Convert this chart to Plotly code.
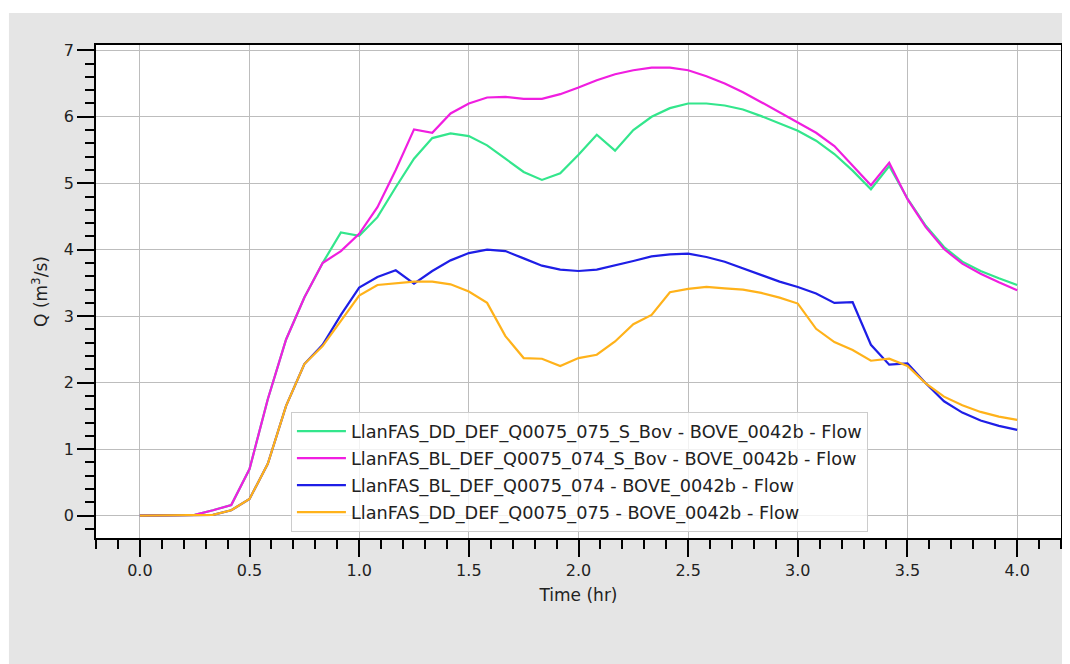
import plotly.graph_objects as go

time_hr = [0.0, 0.0833, 0.1667, 0.25, 0.3333, 0.4167, 0.5, 0.5833, 0.6667, 0.75, 0.8333, 0.9167,
           1.0, 1.0833, 1.1667, 1.25, 1.3333, 1.4167, 1.5, 1.5833, 1.6667, 1.75, 1.8333, 1.9167,
           2.0, 2.0833, 2.1667, 2.25, 2.3333, 2.4167, 2.5, 2.5833, 2.6667, 2.75, 2.8333, 2.9167,
           3.0, 3.0833, 3.1667, 3.25, 3.3333, 3.4167, 3.5, 3.5833, 3.6667, 3.75, 3.8333, 3.9167, 4.0]

dd_s_bov = [0, 0, 0, 0.01, 0.08, 0.16, 0.70, 1.75, 2.65, 3.28, 3.80, 4.26,
            4.21, 4.49, 4.94, 5.37, 5.68, 5.75, 5.71, 5.57, 5.37, 5.17, 5.05, 5.15,
            5.43, 5.73, 5.49, 5.80, 6.00, 6.13, 6.20, 6.20, 6.17, 6.11, 6.01, 5.90,
            5.79, 5.64, 5.44, 5.19, 4.91, 5.26, 4.77, 4.36, 4.04, 3.82, 3.68, 3.57, 3.47]

bl_s_bov = [0, 0, 0, 0.01, 0.08, 0.16, 0.70, 1.75, 2.65, 3.28, 3.80, 3.98,
            4.24, 4.64, 5.20, 5.81, 5.76, 6.05, 6.20, 6.29, 6.30, 6.27, 6.27, 6.34,
            6.44, 6.55, 6.64, 6.70, 6.74, 6.74, 6.70, 6.61, 6.50, 6.37, 6.22, 6.07,
            5.92, 5.76, 5.56, 5.27, 4.97, 5.31, 4.76, 4.34, 4.01, 3.79, 3.64, 3.51, 3.39]

bl_base = [0, 0, 0, 0, 0.01, 0.08, 0.25, 0.78, 1.65, 2.28, 2.57, 3.02,
           3.43, 3.59, 3.69, 3.49, 3.68, 3.84, 3.95, 4.00, 3.98, 3.87, 3.76, 3.70,
           3.68, 3.70, 3.76, 3.83, 3.90, 3.93, 3.94, 3.89, 3.82, 3.72, 3.62, 3.52,
           3.44, 3.34, 3.20, 3.21, 2.57, 2.27, 2.29, 1.99, 1.72, 1.55, 1.43, 1.35, 1.29]

dd_base = [0, 0, 0, 0, 0.01, 0.08, 0.25, 0.78, 1.65, 2.28, 2.55, 2.93,
           3.31, 3.47, 3.50, 3.52, 3.52, 3.48, 3.37, 3.20, 2.70, 2.37, 2.36, 2.25,
           2.37, 2.42, 2.62, 2.88, 3.02, 3.36, 3.41, 3.44, 3.42, 3.40, 3.35, 3.28,
           3.19, 2.81, 2.61, 2.49, 2.33, 2.36, 2.25, 1.99, 1.79, 1.66, 1.56, 1.49, 1.44]

series_names = [
    "LlanFAS_DD_DEF_Q0075_075_S_Bov - BOVE_0042b - Flow",
    "LlanFAS_BL_DEF_Q0075_074_S_Bov - BOVE_0042b - Flow",
    "LlanFAS_BL_DEF_Q0075_074 - BOVE_0042b - Flow",
    "LlanFAS_DD_DEF_Q0075_075 - BOVE_0042b - Flow",
]
series_values = [dd_s_bov, bl_s_bov, bl_base, dd_base]
series_colors = ["#33e68c", "#f01ee0", "#1e1ee6", "#ffb21a"]

FONT = "DejaVu Sans"
TXT = "#222222"

fig = go.Figure()
for i, (name, vals, col) in enumerate(zip(series_names, series_values, series_colors)):
    fig.add_trace(go.Scatter(x=time_hr, y=vals, mode="lines", name=name,
                             legendgroup=f"g{i}",
                             line=dict(color=col, width=2.2)))

axis_common = dict(
    showline=True, mirror=True, linecolor="black", linewidth=1.5,
    showgrid=True, gridcolor="#bdbdbd", gridwidth=1,
    zeroline=False,
    ticks="outside", ticklen=17, tickwidth=1.8, tickcolor="black",
    tickfont=dict(family=FONT, size=16, color=TXT),
)

fig.update_layout(
    width=1070, height=664,
    margin=dict(l=88, r=17, t=37, b=134),
    paper_bgcolor="#e5e5e5",
    plot_bgcolor="white",
    font=dict(family=FONT, size=17, color=TXT),
    xaxis=dict(range=[-0.2, 4.2], dtick=0.5, tick0=0, tickformat=".1f",
               minor=dict(dtick=0.1, tick0=0, ticks="outside", ticklen=9,
                          tickwidth=1.5, tickcolor="black", showgrid=False),
               title=dict(text="Time (hr)", font=dict(family=FONT, size=17, color=TXT), standoff=10),
               **axis_common),
    yaxis=dict(range=[-0.337, 7.08], dtick=1, tick0=0,
               minor=dict(dtick=0.2, tick0=0, ticks="outside", ticklen=9,
                          tickwidth=1.5, tickcolor="black", showgrid=False),
               title=dict(text="Q (m<sup>3</sup>/s)", font=dict(family=FONT, size=17, color=TXT), standoff=12),
               **axis_common),
    legend=dict(x=0.202, y=0.012, xanchor="left", yanchor="bottom",
                bgcolor="rgba(255,255,255,0.8)", bordercolor="#cccccc", borderwidth=1,
                font=dict(family=FONT, size=17.7, color=TXT),
                traceorder="grouped", tracegroupgap=1, itemwidth=49),
    showlegend=True,
    shapes=[
        dict(type="rect", xref="paper", yref="paper", x0=-0.2, x1=1.2, y0=1.0649, y1=1.3,
             fillcolor="white", line=dict(width=0), layer="below"),
        dict(type="rect", xref="paper", yref="paper", x0=-0.2, x1=-0.0902, y0=-0.5, y1=1.3,
             fillcolor="white", line=dict(width=0), layer="below"),
    ],
)

fig.write_html("out.html")
